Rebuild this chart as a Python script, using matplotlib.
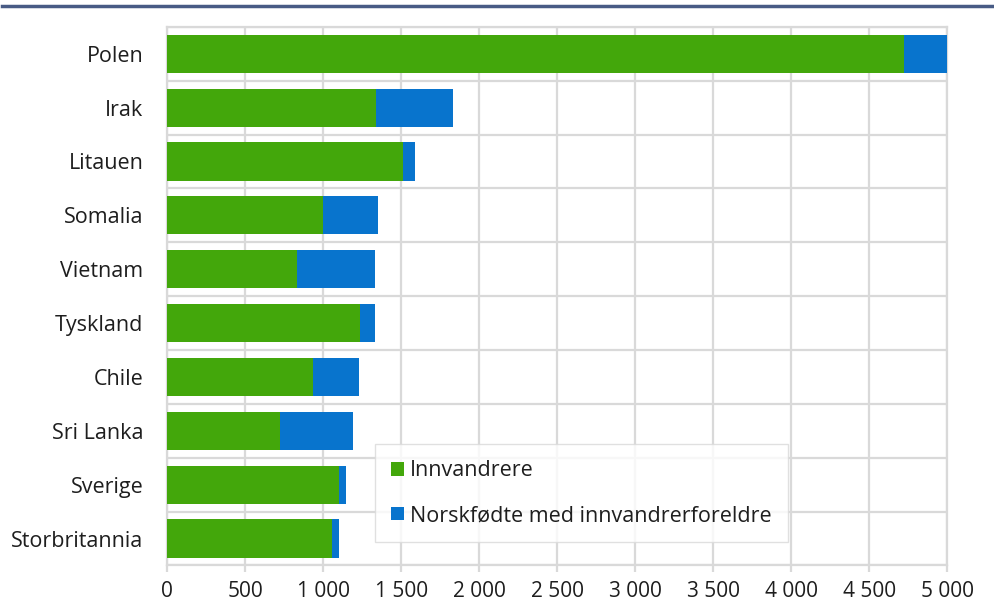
import numpy as np
import matplotlib.pyplot as plt
from matplotlib.lines import Line2D

plt.rcParams['font.family'] = ['Open Sans', 'DejaVu Sans']

land = ['Polen', 'Irak', 'Litauen', 'Somalia', 'Vietnam', 'Tyskland',
        'Chile', 'Sri Lanka', 'Sverige', 'Storbritannia']
innvandrere = [4720, 1340, 1510, 1000, 835, 1235, 935, 725, 1105, 1055]
norskfodte = [280, 495, 80, 350, 500, 95, 295, 470, 45, 50]

x_ticks = [0, 500, 1000, 1500, 2000, 2500, 3000, 3500, 4000, 4500, 5000]
x_labels = ['0', '500', '1 000', '1 500', '2 000', '2 500', '3 000',
            '3 500', '4 000', '4 500', '5 000']

green = '#43a70b'
blue = '#0874cd'
grid = '#d9d9d9'
txt = '#1e1e1e'

fig = plt.figure(figsize=(9.94, 6.1), dpi=100)
ax = fig.add_axes([0.168, 0.073, 0.785, 0.883])

y = np.arange(len(land))
ax.barh(y, innvandrere, height=0.71, color=green, label='Innvandrere', zorder=3)
ax.barh(y, norskfodte, left=innvandrere, height=0.71, color=blue,
        label='Norskfødte med innvandrerforeldre', zorder=3)

ax.set_ylim(len(land) - 0.5, -0.5)
ax.set_xlim(0, 5000)
ax.set_yticks(y)
ax.set_yticklabels(land, fontsize=15.5, color=txt)
ax.set_yticks(np.arange(len(land) + 1) - 0.5, minor=True)
ax.set_xticks(x_ticks)
ax.set_xticklabels(x_labels, fontsize=15, color=txt)

ax.grid(True, axis='x', which='major', color=grid, linewidth=1.6, zorder=0)
ax.grid(True, axis='y', which='minor', color=grid, linewidth=1.6, zorder=0)
ax.tick_params(axis='y', which='both', length=0, pad=17)
ax.tick_params(axis='x', length=5, width=1.6, color=grid, pad=6)
for s in ax.spines.values():
    s.set_color(grid)
    s.set_linewidth(1.6)

leg = ax.legend(loc='upper left', bbox_to_anchor=(0.267, 0.225), fontsize=15.5,
                frameon=True, fancybox=False, edgecolor=grid, handlelength=0.6,
                handleheight=0.6, handletextpad=0.25, labelspacing=1.1,
                borderpad=0.75, borderaxespad=0)
leg.get_frame().set_linewidth(1.0)
for t in leg.get_texts():
    t.set_color(txt)

fig.add_artist(Line2D([0.002, 1.0], [0.99, 0.99], color='#485b85', linewidth=2.5,
                      transform=fig.transFigure))

fig.savefig('out.png', dpi=100)
